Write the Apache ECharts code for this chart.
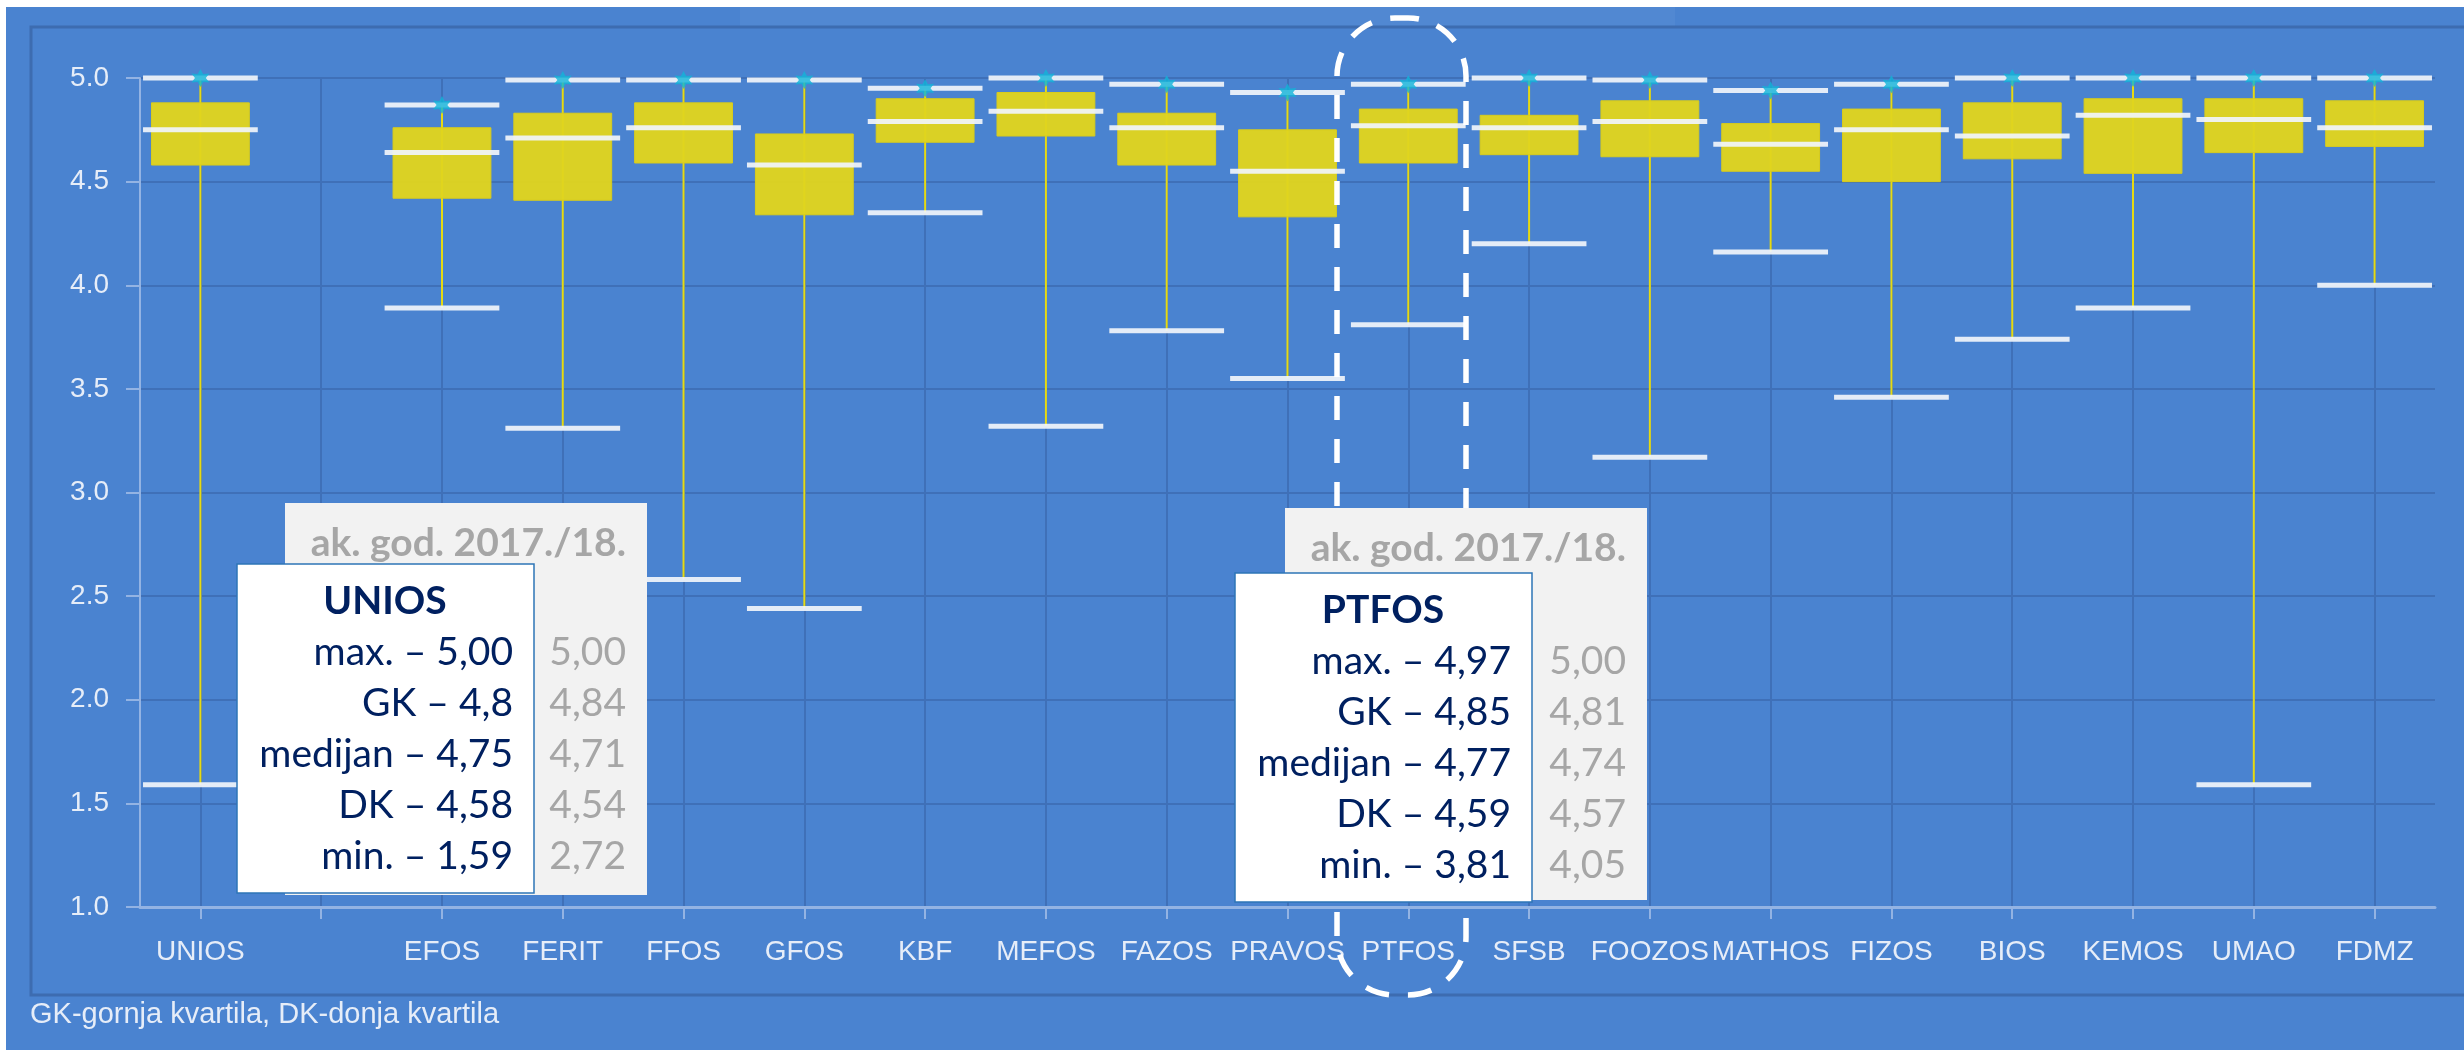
<!DOCTYPE html>
<html>
<head>
<meta charset="utf-8">
<title>UNIOS box plot</title>
<script src="https://cdn.jsdelivr.net/npm/echarts@6.0.0/dist/echarts.min.js"></script>
<style>
    html, body { margin: 0; padding: 0; background: #ffffff; }
    #container { width: 2464px; height: 1050px; }
</style>
</head>
<body>
<div id="container"></div>
<script>
// kategorije (prazna je razmak iza UNIOS)
var categories = ['UNIOS', '', 'EFOS', 'FERIT', 'FFOS', 'GFOS', 'KBF', 'MEFOS', 'FAZOS', 'PRAVOS', 'PTFOS', 'SFSB', 'FOOZOS', 'MATHOS', 'FIZOS', 'BIOS', 'KEMOS', 'UMAO', 'FDMZ'];
var minVals    = [1.59, null, 3.89, 3.31, 2.58, 2.44, 4.35, 3.32, 3.78, 3.55, 3.81, 4.20, 3.17, 4.16, 3.46, 3.74, 3.89, 1.59, 4.00];
var q1Vals     = [4.58, null, 4.42, 4.41, 4.59, 4.34, 4.69, 4.72, 4.58, 4.33, 4.59, 4.63, 4.62, 4.55, 4.50, 4.61, 4.54, 4.64, 4.67];
var medianVals = [4.75, null, 4.64, 4.71, 4.76, 4.58, 4.79, 4.84, 4.76, 4.55, 4.77, 4.76, 4.79, 4.68, 4.75, 4.72, 4.82, 4.80, 4.76];
var q3Vals     = [4.88, null, 4.76, 4.83, 4.88, 4.73, 4.90, 4.93, 4.83, 4.75, 4.85, 4.82, 4.89, 4.78, 4.85, 4.88, 4.90, 4.90, 4.89];
var maxVals    = [5.00, null, 4.87, 4.99, 4.99, 4.99, 4.95, 5.00, 4.97, 4.93, 4.97, 5.00, 4.99, 4.94, 4.97, 5.00, 5.00, 5.00, 5.00];

// tekst u okvirima
var uniosRows = ['max. \u2013 5,00', 'GK \u2013 4,8', 'medijan \u2013 4,75', 'DK \u2013 4,58', 'min. \u2013 1,59'];
var uniosPrev = ['5,00', '4,84', '4,71', '4,54', '2,72'];
var ptfosRows = ['max. \u2013 4,97', 'GK \u2013 4,85', 'medijan \u2013 4,77', 'DK \u2013 4,59', 'min. \u2013 3,81'];
var ptfosPrev = ['5,00', '4,81', '4,74', '4,57', '4,05'];
var prevYearTitle = 'ak. god. 2017./18.';
var footNote = 'GK-gornja kvartila, DK-donja kvartila';

var page = {
    init: function () {
        this.generateCharts();
    },
    //okvir s vrijednostima
    infoBox: function (name, rows, prev, wx, wy, gx, gy) {
        var els = [];
        var boxFont = '39px Lato';
        els.push({ type: 'rect', z: 100, shape: { x: gx, y: gy, width: 362, height: 392 }, style: { fill: '#f2f2f2' } });
        els.push({ type: 'text', z: 101, x: gx + 341, y: gy + 40, style: { text: prevYearTitle, fill: '#a6a6a6', font: 'bold 39px Lato', align: 'right', verticalAlign: 'middle' } });
        els.push({ type: 'rect', z: 102, shape: { x: wx, y: wy, width: 297, height: 329 }, style: { fill: '#ffffff', stroke: '#2e75b6', lineWidth: 1.5 } });
        els.push({ type: 'text', z: 103, x: wx + 148, y: wy + 37, style: { text: name, fill: '#002060', font: 'bold 39px Lato', align: 'center', verticalAlign: 'middle' } });
        for (var i = 0; i < rows.length; i++) {
            els.push({ type: 'text', z: 103, x: wx + 276, y: wy + 88 + 51 * i, style: { text: rows[i], fill: '#002060', font: boxFont, align: 'right', verticalAlign: 'middle' } });
            els.push({ type: 'text', z: 103, x: gx + 341, y: wy + 88 + 51 * i, style: { text: prev[i], fill: '#a6a6a6', font: boxFont, align: 'right', verticalAlign: 'middle' } });
        }
        return els;
    },
    renderBox: function (params, api) {
        var idx = api.value(0);
        var band = api.size([1, 0])[0];
        var boxW = band * 0.81, capW = band * 0.95;
        var pMin = api.coord([idx, api.value(1)]);
        var pQ1 = api.coord([idx, api.value(2)]);
        var pMed = api.coord([idx, api.value(3)]);
        var pQ3 = api.coord([idx, api.value(4)]);
        var pMax = api.coord([idx, api.value(5)]);
        var cx = pMed[0];
        var white = { stroke: 'rgba(240,244,250,0.93)', lineWidth: 5 };
        return {
            type: 'group',
            children: [
                { type: 'line', shape: { x1: cx, y1: pMax[1], x2: cx, y2: pMin[1] }, style: { stroke: '#e6da12', lineWidth: 2 } },
                { type: 'rect', shape: { x: cx - boxW / 2, y: pQ3[1], width: boxW, height: pQ1[1] - pQ3[1] }, style: { fill: 'rgba(224,212,30,0.96)', stroke: '#d8cc1c', lineWidth: 1 } },
                { type: 'line', shape: { x1: cx - capW / 2, y1: pMed[1], x2: cx + capW / 2, y2: pMed[1] }, style: white },
                { type: 'line', shape: { x1: cx - capW / 2, y1: pMax[1], x2: cx + capW / 2, y2: pMax[1] }, style: white },
                { type: 'line', shape: { x1: cx - capW / 2, y1: pMin[1], x2: cx + capW / 2, y2: pMin[1] }, style: white }
            ]
        };
    },
    //generiranje grafa
    generateCharts: function () {
        var that = this;
        var boxData = [], starData = [];
        for (var i = 0; i < categories.length; i++) {
            if (minVals[i] == null) continue;
            boxData.push([i, minVals[i], q1Vals[i], medianVals[i], q3Vals[i], maxVals[i]]);
            starData.push([i, maxVals[i]]);
        }
        var labelColor = '#e6edf8';
        var graphics = [
            { type: 'rect', z: -10, shape: { x: 6, y: 7, width: 2464, height: 1050 }, style: { fill: '#4a83d0' } },
            { type: 'rect', z: -9, shape: { x: 740, y: 7, width: 935, height: 19 }, style: { fill: 'rgba(255,255,255,0.045)' } },
            { type: 'rect', z: -8, shape: { x: 31, y: 27, width: 2500, height: 968 }, style: { fill: 'none', stroke: '#3d6cb0', lineWidth: 3 } },
            { type: 'rect', z: 50, shape: { x: 1337, y: 18, width: 129, height: 977, r: 58 }, style: { fill: 'none', stroke: '#ffffff', lineWidth: 5.5, lineDash: [24, 19] } },
            { type: 'text', z: 10, x: 30, y: 1015, style: { text: footNote, fill: labelColor, font: '29px "Liberation Sans"', align: 'left', verticalAlign: 'middle' } }
        ];
        graphics = graphics.concat(that.infoBox('UNIOS', uniosRows, uniosPrev, 237, 564, 285, 503));
        graphics = graphics.concat(that.infoBox('PTFOS', ptfosRows, ptfosPrev, 1235, 573, 1285, 508));

        var option = {
            animation: false,
            textStyle: { fontFamily: '"Liberation Sans", Arial, sans-serif' },
            grid: { left: 140, right: 29, top: 78, bottom: 143 },
            xAxis: {
                type: 'category',
                data: categories,
                boundaryGap: true,
                axisLine: { show: true, lineStyle: { color: '#93b3e3', width: 3 } },
                axisTick: { show: true, alignWithLabel: true, interval: 0, length: 12, lineStyle: { color: '#93b3e3', width: 2 } },
                axisLabel: { interval: 0, color: labelColor, fontSize: 28, margin: 31 },
                splitLine: { show: true, alignWithLabel: true, interval: 0, lineStyle: { color: '#3f70b8', width: 2 } }
            },
            yAxis: {
                type: 'value',
                min: 1,
                max: 5,
                interval: 0.5,
                axisLine: { show: true, lineStyle: { color: '#93b3e3', width: 2 } },
                axisTick: { show: true, length: 14, lineStyle: { color: '#93b3e3', width: 2 } },
                axisLabel: { color: labelColor, fontSize: 28, margin: 31, formatter: function (v) { return v.toFixed(1); } },
                splitLine: { show: true, lineStyle: { color: '#3f70b8', width: 2 } }
            },
            graphic: { elements: graphics },
            series: [
                {
                    type: 'custom',
                    name: 'box',
                    renderItem: that.renderBox,
                    encode: { x: 0, y: [1, 2, 3, 4, 5] },
                    data: boxData,
                    z: 3
                },
                {
                    type: 'scatter',
                    name: 'max',
                    symbol: 'path://M0,-10 L2.6,-4.5 L8.66,-5 L5.2,0 L8.66,5 L2.6,4.5 L0,10 L-2.6,4.5 L-8.66,5 L-5.2,0 L-8.66,-5 L-2.6,-4.5 Z',
                    symbolSize: 18,
                    itemStyle: { color: '#12b4d8' },
                    data: starData,
                    z: 5
                }
            ]
        };
        echarts.init(document.getElementById('container')).setOption(option);
    }
};

page.init();
</script>
</body>
</html>
